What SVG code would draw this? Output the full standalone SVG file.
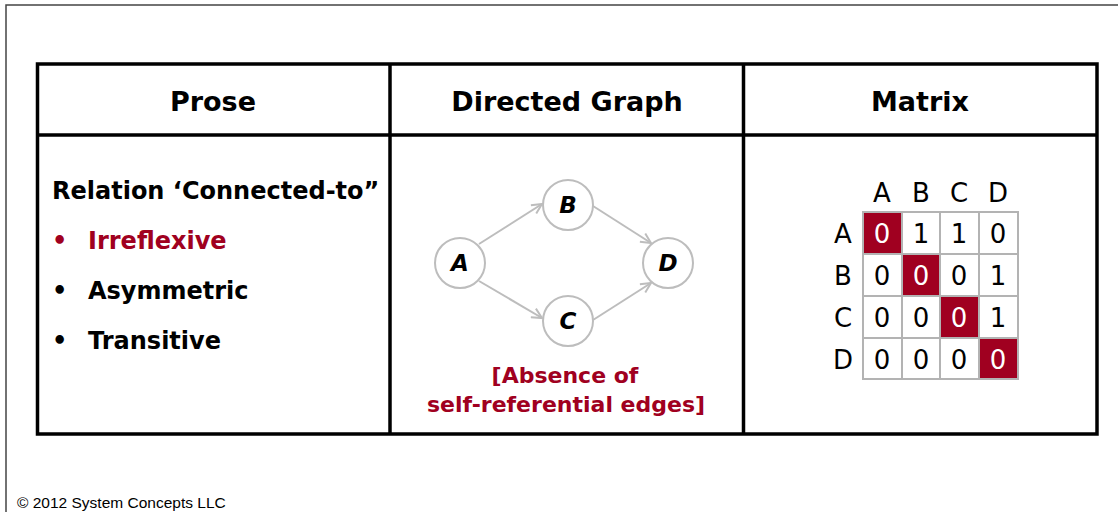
<svg xmlns="http://www.w3.org/2000/svg" width="1118" height="512" viewBox="0 0 1118 512">
<style>
.frame{fill:none;stroke:#444;stroke-width:1.5}
.tbl{fill:none;stroke:#000;stroke-width:3.5}
.hdr{font-family:"DejaVu Sans",sans-serif;font-weight:bold;font-size:27px;text-anchor:middle;fill:#000}
.prose{font-family:"DejaVu Sans",sans-serif;font-weight:bold;font-size:24px;fill:#000}
.cap{font-family:"DejaVu Sans",sans-serif;font-weight:bold;font-size:22px;fill:#a00020;text-anchor:middle}
.red{fill:#a00020}
.node circle{fill:#fff;stroke:#bdbdbd;stroke-width:2}
.node text{font-family:"DejaVu Sans",sans-serif;font-weight:bold;font-style:italic;font-size:23px;text-anchor:middle;fill:#000}
.edge{stroke:#bdbdbd;stroke-width:2;fill:none;marker-end:url(#arr)}
.mx{font-family:"DejaVu Sans",sans-serif;font-size:26px;text-anchor:middle;fill:#000}
.cell{fill:#fff;stroke:#b3b3b3;stroke-width:2}
.diag{fill:#a00020;stroke:#b3b3b3;stroke-width:2}
.foot{font-family:"Liberation Sans",Arial,sans-serif;font-size:15.5px;fill:#000}
</style>
<defs>
<marker id="arr" viewBox="0 0 12 12" refX="11" refY="6" markerWidth="12" markerHeight="12" markerUnits="userSpaceOnUse" orient="auto">
<path d="M1,1 L11,6 L1,11" fill="none" stroke="#bdbdbd" stroke-width="2"/>
</marker>
</defs>
<rect width="1118" height="512" fill="#fff"/>
<path class="frame" d="M6,512 V5 H1118"/>
<g id="table">
<rect class="tbl" x="37.5" y="64" width="1059.5" height="370"/>
<line class="tbl" x1="37.5" y1="135" x2="1097" y2="135"/>
<line class="tbl" x1="390" y1="64" x2="390" y2="434"/>
<line class="tbl" x1="743.5" y1="64" x2="743.5" y2="434"/>
<text class="hdr" x="213" y="111">Prose</text>
<text class="hdr" x="567" y="111">Directed Graph</text>
<text class="hdr" x="920" y="111">Matrix</text>
</g>
<g id="prose">
<text class="prose" x="52" y="199">Relation ‘Connected-to”</text>
<text class="prose red" x="52" y="249">•</text>
<text class="prose red" x="88" y="249">Irreflexive</text>
<text class="prose" x="52" y="299">•</text>
<text class="prose" x="88" y="299">Asymmetric</text>
<text class="prose" x="52" y="349">•</text>
<text class="prose" x="88" y="349">Transitive</text>
</g>
<g id="connectors">
<line class="edge" x1="479" y1="244" x2="542" y2="204"/>
<line class="edge" x1="479" y1="281" x2="542" y2="318"/>
<line class="edge" x1="593" y1="206" x2="651" y2="243"/>
<line class="edge" x1="593" y1="320" x2="651" y2="283"/>
</g>
<g id="node-A" class="node"><circle cx="460" cy="263" r="25"/><text x="460" y="271">A</text></g>
<g id="node-B" class="node"><circle cx="568" cy="205" r="25"/><text x="568" y="213">B</text></g>
<g id="node-C" class="node"><circle cx="568" cy="321" r="25"/><text x="568" y="329">C</text></g>
<g id="node-D" class="node"><circle cx="668" cy="263" r="25"/><text x="668" y="271">D</text></g>
<g id="caption">
<text class="cap" x="565" y="383">[Absence of</text>
<text class="cap" x="566" y="412">self-referential edges]</text>
</g>
<g id="matrix">
<text class="mx" x="882" y="202">A</text>
<text class="mx" x="921" y="202">B</text>
<text class="mx" x="959" y="202">C</text>
<text class="mx" x="998" y="202">D</text>
<text class="mx" x="843" y="243">A</text>
<text class="mx" x="843" y="285">B</text>
<text class="mx" x="843" y="327">C</text>
<text class="mx" x="843" y="369">D</text>
<rect class="diag" x="863" y="212" width="39" height="42"/>
<rect class="cell" x="902" y="212" width="38" height="42"/>
<rect class="cell" x="940" y="212" width="39" height="42"/>
<rect class="cell" x="979" y="212" width="39" height="42"/>
<rect class="cell" x="863" y="254" width="39" height="42"/>
<rect class="diag" x="902" y="254" width="38" height="42"/>
<rect class="cell" x="940" y="254" width="39" height="42"/>
<rect class="cell" x="979" y="254" width="39" height="42"/>
<rect class="cell" x="863" y="296" width="39" height="42"/>
<rect class="cell" x="902" y="296" width="38" height="42"/>
<rect class="diag" x="940" y="296" width="39" height="42"/>
<rect class="cell" x="979" y="296" width="39" height="42"/>
<rect class="cell" x="863" y="338" width="39" height="41"/>
<rect class="cell" x="902" y="338" width="38" height="41"/>
<rect class="cell" x="940" y="338" width="39" height="41"/>
<rect class="diag" x="979" y="338" width="39" height="41"/>
<text class="mx" x="882" y="243" style="fill:#fff">0</text>
<text class="mx" x="921" y="243">1</text>
<text class="mx" x="959" y="243">1</text>
<text class="mx" x="998" y="243">0</text>
<text class="mx" x="882" y="285">0</text>
<text class="mx" x="921" y="285" style="fill:#fff">0</text>
<text class="mx" x="959" y="285">0</text>
<text class="mx" x="998" y="285">1</text>
<text class="mx" x="882" y="327">0</text>
<text class="mx" x="921" y="327">0</text>
<text class="mx" x="959" y="327" style="fill:#fff">0</text>
<text class="mx" x="998" y="327">1</text>
<text class="mx" x="882" y="369">0</text>
<text class="mx" x="921" y="369">0</text>
<text class="mx" x="959" y="369">0</text>
<text class="mx" x="998" y="369" style="fill:#fff">0</text>
</g>
<text class="foot" x="17" y="508">© 2012 System Concepts LLC</text>
</svg>
